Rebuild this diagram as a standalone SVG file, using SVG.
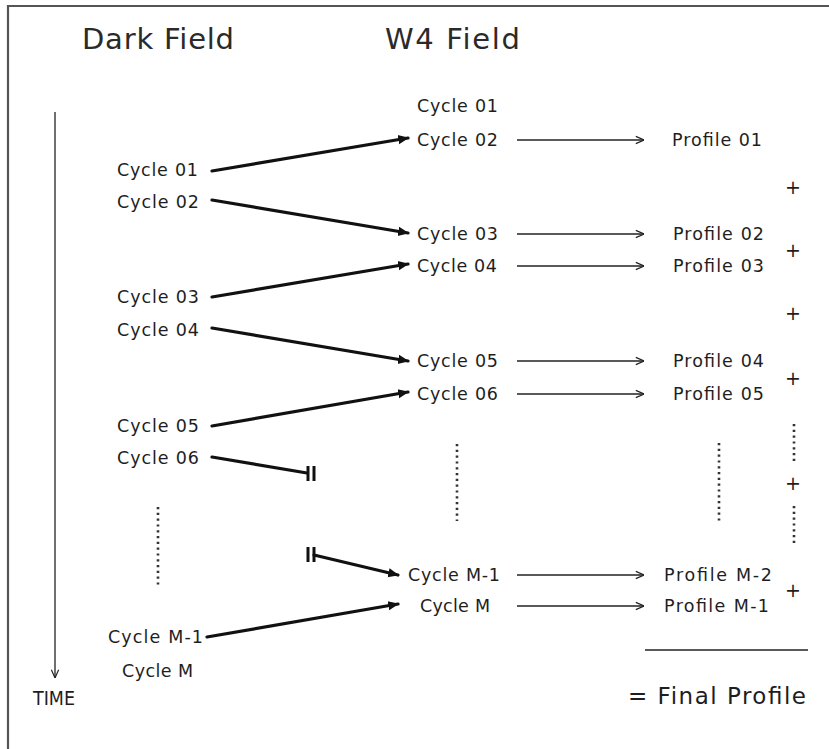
<svg xmlns="http://www.w3.org/2000/svg" width="829" height="749" viewBox="0 0 829 749">
<defs>
<style>
text{font-family:"DejaVu Sans","Liberation Sans",Arial,sans-serif;fill:#1e1e1e}
.t{font-size:17.5px}
.h{font-size:29px;fill:#2a2a2a}
.p{font-size:19px}
.thick{stroke:#111;stroke-width:3.2;fill:none;stroke-linecap:round}
.thin{stroke:#222;stroke-width:1.3;fill:none}
.dot{stroke:#333;stroke-width:2.6;stroke-dasharray:2.2 3.6;fill:none}
.bar{stroke:#111;stroke-width:3;fill:none}
</style>
<marker id="fa" viewBox="0 0 10 10" refX="9" refY="5" markerWidth="3.4" markerHeight="3.4" orient="auto" markerUnits="strokeWidth"><path d="M0,0.8 L10,5 L0,9.2 Z" fill="#111"/></marker>
<marker id="oa" viewBox="0 0 10 10" refX="10" refY="5" markerWidth="7" markerHeight="7" orient="auto" markerUnits="strokeWidth"><path d="M1,1 L10,5 L1,9" fill="none" stroke="#222" stroke-width="1.3"/></marker>
</defs>
<rect width="829" height="749" fill="#fff"/>
<path d="M8,749 L8,6 L829,6" fill="none" stroke="#555" stroke-width="2.2"/>

<g id="titles">
<text class="h" x="82" y="49" textLength="152" lengthAdjust="spacing">Dark Field</text>
<text class="h" x="385" y="49" textLength="135" lengthAdjust="spacing">W4 Field</text>
</g>

<g id="time">
<line x1="55" y1="112" x2="55" y2="678" class="thin" marker-end="url(#oa)"/>
<text x="33" y="705" font-size="20" fill="#2a2a2a" textLength="42" lengthAdjust="spacingAndGlyphs">TIME</text>
</g>

<g id="dark">
<text class="t" x="117" y="176" textLength="81" lengthAdjust="spacing">Cycle 01</text>
<text class="t" x="117" y="208" textLength="82" lengthAdjust="spacing">Cycle 02</text>
<text class="t" x="117" y="303" textLength="82" lengthAdjust="spacing">Cycle 03</text>
<text class="t" x="117" y="336" textLength="82" lengthAdjust="spacing">Cycle 04</text>
<text class="t" x="117" y="432" textLength="82" lengthAdjust="spacing">Cycle 05</text>
<text class="t" x="117" y="464" textLength="82" lengthAdjust="spacing">Cycle 06</text>
<text class="t" x="108" y="643" textLength="95" lengthAdjust="spacing">Cycle M-1</text>
<text class="t" x="122" y="677" textLength="71" lengthAdjust="spacing">Cycle M</text>
</g>

<g id="w4">
<text class="t" x="417" y="112" textLength="81" lengthAdjust="spacing">Cycle 01</text>
<text class="t" x="417" y="146" textLength="81" lengthAdjust="spacing">Cycle 02</text>
<text class="t" x="417" y="240" textLength="81" lengthAdjust="spacing">Cycle 03</text>
<text class="t" x="417" y="272" textLength="80" lengthAdjust="spacing">Cycle 04</text>
<text class="t" x="417" y="367" textLength="81" lengthAdjust="spacing">Cycle 05</text>
<text class="t" x="417" y="400" textLength="81" lengthAdjust="spacing">Cycle 06</text>
<text class="t" x="408" y="581" textLength="92" lengthAdjust="spacing">Cycle M-1</text>
<text class="t" x="420" y="612" textLength="70" lengthAdjust="spacing">Cycle M</text>
</g>

<g id="profiles">
<text class="t" x="672" y="146" textLength="90" lengthAdjust="spacing">Profile 01</text>
<text class="t" x="673" y="240" textLength="91" lengthAdjust="spacing">Profile 02</text>
<text class="t" x="673" y="272" textLength="91" lengthAdjust="spacing">Profile 03</text>
<text class="t" x="673" y="367" textLength="91" lengthAdjust="spacing">Profile 04</text>
<text class="t" x="673" y="400" textLength="91" lengthAdjust="spacing">Profile 05</text>
<text class="t" x="664" y="581" textLength="108" lengthAdjust="spacing">Profile M-2</text>
<text class="t" x="664" y="612" textLength="105" lengthAdjust="spacing">Profile M-1</text>
</g>

<g id="sum">
<g class="p">
<text x="793" y="194" text-anchor="middle">+</text>
<text x="793" y="257" text-anchor="middle">+</text>
<text x="793" y="320" text-anchor="middle">+</text>
<text x="793" y="385" text-anchor="middle">+</text>
<text x="793" y="490" text-anchor="middle">+</text>
<text x="793" y="597" text-anchor="middle">+</text>
</g>
<line x1="645" y1="650" x2="808" y2="650" stroke="#222" stroke-width="1.6"/>
<text x="628" y="704" font-size="23" textLength="178" lengthAdjust="spacing">= Final Profile</text>
</g>

<g id="connectors">
<line class="thick" x1="212" y1="171" x2="408" y2="138" marker-end="url(#fa)"/>
<line class="thick" x1="212" y1="200" x2="408" y2="233" marker-end="url(#fa)"/>
<line class="thick" x1="212" y1="297" x2="408" y2="264" marker-end="url(#fa)"/>
<line class="thick" x1="212" y1="328" x2="408" y2="361" marker-end="url(#fa)"/>
<line class="thick" x1="212" y1="426" x2="408" y2="392" marker-end="url(#fa)"/>
<line class="thick" x1="212" y1="457" x2="307" y2="473"/>
<line class="bar" x1="308" y1="466" x2="308" y2="481"/>
<line class="bar" x1="314" y1="466" x2="314" y2="481"/>
<line class="bar" x1="308" y1="547" x2="308" y2="562"/>
<line class="bar" x1="314" y1="547" x2="314" y2="562"/>
<line class="thick" x1="314" y1="555" x2="398" y2="575" marker-end="url(#fa)"/>
<line class="thick" x1="207" y1="637" x2="398" y2="604" marker-end="url(#fa)"/>

<line class="thin" x1="517" y1="140" x2="644" y2="140" marker-end="url(#oa)"/>
<line class="thin" x1="517" y1="234" x2="644" y2="234" marker-end="url(#oa)"/>
<line class="thin" x1="517" y1="266" x2="644" y2="266" marker-end="url(#oa)"/>
<line class="thin" x1="517" y1="361" x2="644" y2="361" marker-end="url(#oa)"/>
<line class="thin" x1="517" y1="394" x2="644" y2="394" marker-end="url(#oa)"/>
<line class="thin" x1="517" y1="575" x2="644" y2="575" marker-end="url(#oa)"/>
<line class="thin" x1="517" y1="606" x2="644" y2="606" marker-end="url(#oa)"/>

<line class="dot" x1="158" y1="507" x2="158" y2="586"/>
<line class="dot" x1="457" y1="444" x2="457" y2="521"/>
<line class="dot" x1="719" y1="443" x2="719" y2="521"/>
<line class="dot" x1="794" y1="424" x2="794" y2="462"/>
<line class="dot" x1="794" y1="506" x2="794" y2="545"/>
</g>
</svg>
